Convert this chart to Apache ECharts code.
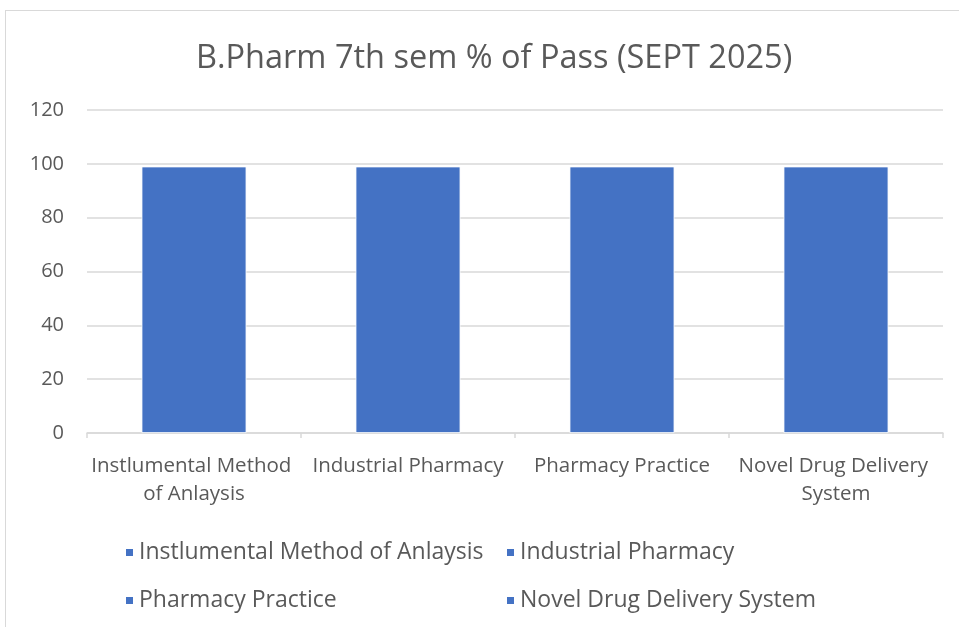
<!DOCTYPE html>
<html>
<head>
<meta charset="utf-8">
<script src="https://cdn.jsdelivr.net/npm/echarts@6/dist/echarts.min.js"></script>
<style>
  html, body { margin: 0; padding: 0; background: #fff; }
  #frame {
    position: absolute; left: 5px; top: 10px; width: 980px; height: 640px;
    border: 1.5px solid #d9d9d9; box-sizing: border-box;
  }
  #chart { position: absolute; left: 0; top: 0; width: 959px; height: 627px; }
</style>
</head>
<body>
<div id="frame"></div>
<div id="chart"></div>
<script>
const categories = ['Instlumental Method of Anlaysis', 'Industrial Pharmacy', 'Pharmacy Practice', 'Novel Drug Delivery System']
const passPercent = [99, 99, 99, 99]
const yTicks = [0, 20, 40, 60, 80, 100, 120]

const barColor = '#4472c4'
const textColor = '#595959'
const fontFamily = 'Open Sans, Noto Sans, sans-serif'

const chart = echarts.init(document.getElementById('chart'))

// one series per subject so the legend lists each subject (Excel "vary colors by point")
const series = categories.map((name, i) => ({
  name: name,
  type: 'bar',
  stack: 'pass',
  barWidth: '49%',
  data: categories.map((c, j) => (j === i ? passPercent[i] : '-')),
  itemStyle: { color: barColor, borderColor: '#ffffff', borderWidth: 0.8 }
}))

const legendText = { color: textColor, fontSize: 23, fontFamily: fontFamily }

const option = {
  backgroundColor: 'transparent',
  animation: false,
  title: {
    text: 'B.Pharm 7th sem % of Pass (SEPT 2025)',
    left: 191,
    top: 37,
    textStyle: { color: textColor, fontSize: 32.5, fontWeight: 'normal', fontFamily: fontFamily }
  },
  legend: [
    {
      data: [categories[0], categories[2]],
      orient: 'vertical',
      left: 119,
      top: 536,
      itemGap: 25,
      itemWidth: 9,
      itemHeight: 9,
      icon: 'rect',
      textStyle: legendText
    },
    {
      data: [categories[1], categories[3]],
      orient: 'vertical',
      left: 500,
      top: 536,
      itemGap: 25,
      itemWidth: 9,
      itemHeight: 9,
      icon: 'rect',
      textStyle: legendText
    }
  ],
  grid: { left: 87, right: 16, top: 110, bottom: 194 },
  xAxis: {
    type: 'category',
    data: categories,
    axisLine: { lineStyle: { color: '#d9d9d9', width: 1.5 } },
    axisTick: { show: true, length: 5, lineStyle: { color: '#d9d9d9', width: 1.5 } },
    axisLabel: {
      interval: 0,
      margin: 19,
      color: textColor,
      fontSize: 20.5,
      fontFamily: fontFamily,
      lineHeight: 28,
      width: 210,
      overflow: 'break'
    }
  },
  yAxis: {
    type: 'value',
    min: yTicks[0],
    max: yTicks[yTicks.length - 1],
    interval: 20,
    axisLine: { show: false },
    axisTick: { show: false },
    axisLabel: { color: textColor, fontSize: 20, fontFamily: fontFamily, margin: 23 },
    splitLine: { lineStyle: { color: '#d9d9d9', width: 1.5 } }
  },
  series: series
}

chart.setOption(option)
</script>
</body>
</html>
